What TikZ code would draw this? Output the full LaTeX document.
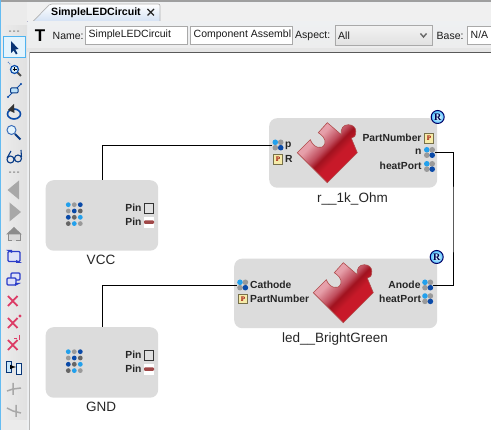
\documentclass[tikz,border=0pt]{standalone}
\usepackage{fontspec}
\setmainfont{Liberation Sans}
\newfontfamily\serifb{Liberation Serif}
\definecolor{boxgray}{HTML}{DCDCDC}
\definecolor{lblue}{HTML}{22A0EC}
\definecolor{dblue}{HTML}{0A4AA8}
\definecolor{dotg}{HTML}{9A9A9A}
\definecolor{dotd}{HTML}{666666}
\definecolor{uibg}{HTML}{EEF0F2}
\definecolor{uiline}{HTML}{A9A9A9}
\definecolor{tabblue}{HTML}{D4E2F4}
\definecolor{pyellow}{HTML}{F6EBA8}
\definecolor{polive}{HTML}{77704A}
\definecolor{pinred}{HTML}{A04848}
\definecolor{iconred}{HTML}{DC3C66}
\definecolor{iconblue}{HTML}{2A3CC8}
\definecolor{icongray}{HTML}{A8A8A8}
\pgfdeclarehorizontalshading{puzz}{100bp}{rgb(0bp)=(0.95,0.75,0.78); rgb(36bp)=(0.90,0.62,0.66); rgb(46bp)=(0.75,0.30,0.36); rgb(51bp)=(0.63,0.07,0.12); rgb(58bp)=(0.78,0.10,0.16); rgb(100bp)=(0.82,0.10,0.16)}
\tikzset{
  x=1pt,y=-1pt,
  block/.style={draw=none,fill=boxgray,rounded corners=8pt,inner sep=0pt},
  uitext/.style={inner sep=0pt,font=\fontsize{10.5}{12}\selectfont,text=black!90},
  field/.style={draw=uiline,fill=white,line width=.8pt,inner sep=0pt,anchor=north west},
  tlabel/.style={inner sep=0pt,font=\fontsize{13.5}{15}\selectfont,text=black!85},
  plabel/.style={inner sep=0pt,font=\bfseries\fontsize{10.3}{12}\selectfont,text=black!85},
  wire/.style={draw=black,line width=.9pt},
  porticon/.style={inner sep=0pt,minimum size=11pt,path picture={
    \fill[lblue] ([xshift=-2.7pt,yshift=2.7pt]path picture bounding box.center) circle (2.8pt);
    \fill[dotg] ([xshift=2.7pt,yshift=2.7pt]path picture bounding box.center) circle (2.8pt);
    \fill[dotg] ([xshift=-2.7pt,yshift=-2.7pt]path picture bounding box.center) circle (2.8pt);
    \fill[dblue] ([xshift=2.7pt,yshift=-2.7pt]path picture bounding box.center) circle (2.8pt);}},
  picon/.style={draw=polive,fill=pyellow,line width=.8pt,inner sep=0pt,minimum size=9.5pt,text=red!60!black,font=\serifb\bfseries\fontsize{7}{7}\selectfont},
  rbadge/.style={circle,draw=blue!40!black,line width=1pt,inner sep=0pt,minimum size=13pt,inner color=white,outer color=blue!35!cyan!70!white,text=blue!30!black,font=\serifb\bfseries\fontsize{10}{10}\selectfont},
  griddot/.style={radius=2.4pt},
  redx/.style={draw=iconred,line width=1.8pt},
}
\newcommand{\puzzleat}[2]{%
  \begin{scope}[shift={(#1,#2)}]
  \path[draw=red!55!black!70,line width=.6pt,shading=puzz,shading angle=-45]
    (-30,0) -- (-17,-13)
    .. controls (-14,-5) and (-5,-2) .. (-2.5,-9)
    .. controls (-1,-14) and (-6,-18) .. (-9,-20)
    -- (0,-30) -- (14,-18)
    .. controls (13,-24) and (16,-28) .. (21,-28)
    .. controls (25.5,-28) and (28.5,-25) .. (28.5,-21.5)
    .. controls (28.5,-17) and (27,-14.5) .. (24,-14.5)
    -- (30,0) -- (0,30) -- cycle;
  \end{scope}}
\newcommand{\griddots}[2]{%
  \begin{scope}[shift={(#1,#2)}]
  \foreach \px/\py/\pc in {0/0/lblue,6/0/dotg,12/0/dblue,0/6.3/dotg,6/6.3/dblue,12/6.3/dotd,0/12.6/dblue,6/12.6/dotd,12/12.6/lblue,0/18.9/dotd,6/18.9/lblue,12/18.9/dotg}
    \fill[\pc] (\px,\py) circle[griddot];
  \end{scope}}
\newcommand{\threedots}[1]{\fill[gray!70] (9,#1) rectangle +(2,1.5) (13,#1) rectangle +(2,1.5) (17,#1) rectangle +(2,1.5);}
\begin{document}
\begin{tikzpicture}
\useasboundingbox (0,0) rectangle (491,430);
% window chrome
\fill[uibg] (0,0) rectangle (491,430);
\fill[gray!75] (0,0) rectangle (491,2);
\fill[black!8] (1,2) rectangle (27,430);
\fill[lblue!70] (0,0) rectangle (1,430);
\fill[black!6] (27,3) rectangle (491,21);
\draw[blue!20!gray!50,line width=.8pt] (27,21) -- (491,21);
% tab
\path[draw=gray!60,line width=.7pt,top color=white,bottom color=tabblue] (33,21.5) -- (49,5) .. controls (50,4) .. (52,4) -- (156,4) .. controls (160,4) .. (160,8) -- (160,21.5) -- cycle;
\node[inner sep=0pt,anchor=west,font=\bfseries\fontsize{10.6}{12}\selectfont] (tabtext) at (51,12.5) {SimpleLEDCircuit};
\draw[line width=1.2pt,black!85] (147.5,9) -- (154,15.5) (154,9) -- (147.5,15.5);
% option row
\shade[top color=uibg,bottom color=black!7] (28,22) rectangle (491,48);
\fill[black!10] (27,48) rectangle (491,52);
\node[inner sep=0pt,font=\bfseries\fontsize{17}{17}\selectfont] (ticon) at (40,35.5) {T};
\node[uitext,anchor=west] (namelbl) at (52.5,36) {Name:};
\node[field,minimum width=102pt,minimum height=18pt] (namefield) at (85,26) {};
\node[uitext,anchor=west] (nametext) at (88.5,35) {SimpleLEDCircuit};
\node[field,minimum width=102pt,minimum height=18pt] (compfield) at (190,26) {};
\node[uitext,anchor=west] (comptext) at (193.5,35) {Component Assembl};
\node[uitext,anchor=west] (aspectlbl) at (295,36) {Aspect:};
\node[field,minimum width=97pt,minimum height=20pt,fill=none,top color=white!95!black,bottom color=black!12] (aspectbox) at (334.5,25.5) {};
\node[uitext,anchor=west] (aspecttext) at (338,36) {All};
\draw[line width=1.4pt,black!60] (420.5,33.5) -- (423.5,37) -- (426.5,33.5);
\node[uitext,anchor=west] (baselbl) at (436.5,36) {Base:};
\node[field,minimum width=30pt,minimum height=18pt] (basefield) at (467,26) {};
\node[uitext,anchor=west] (basetext) at (470.5,35) {N/A};
% canvas
\fill[white] (30,53) rectangle (491,430);
\draw[gray!70!black,line width=1.2pt] (29,52.5) -- (491,52.5);
\draw[gray!55,line width=1.2pt] (29.5,52) -- (29.5,430);
% left toolbar
\shade[left color=white!92!black,right color=black!12] (3,26) rectangle (27,420);
\threedots{30.5}
\threedots{171.5}
\draw[lblue!80,fill=lblue!12,line width=.9pt] (3.5,36.5) rectangle (25,57);
\fill[dblue!70!black] (11,41) -- (11,53) -- (13.6,50.5) -- (16,54.5) -- (17.5,53.5) -- (15.3,49.5) -- (18.5,49) -- cycle;
% zoom-to-box icon
\draw[dblue!70,line width=1pt,dash pattern=on 1pt off 1pt] (8,62) -- (11,65);
\draw[black!70,line width=1.8pt] (17.5,72.5) -- (21,76);
\draw[dblue,line width=1.2pt,fill=lblue!20] (14.5,69.5) circle (4pt);
\draw[black,line width=.7pt] (12.5,69.5) -- (16.5,69.5) (14.5,67.5) -- (14.5,71.5);
% connection icon
\draw[dblue,line width=.9pt] (8,97) -- (21,84);
\fill[dblue] (8,97) circle (1.2pt) (21,84) circle (1.2pt);
\draw[dblue!80!black,fill=lblue!30,line width=1pt,rounded corners=1pt] (10.5,88) rectangle (18,93);
% rotate icon
\draw[dblue,line width=1.6pt] (14,114) ellipse (6.5pt and 5pt);
\fill[black!80] (8,110) -- (14,104) -- (14.5,113) -- cycle;
% magnifier
\draw[dblue!80,line width=1pt,fill=lblue!12] (11.5,130) circle (4.5pt);
\draw[dblue!80!black,line width=2pt] (15,134) -- (20.5,139.5);
% glasses
\draw[dblue!80!black,line width=1.1pt] (10.5,159.5) circle (3.5pt) (18,158.5) circle (3.5pt) (14,158) -- (14.5,158) (7,158) -- (11,151) (21.5,157) -- (21,150);
% back/forward
\fill[icongray] (7.5,190) -- (19,180.5) -- (19,199.5) -- cycle;
\fill[icongray] (21,212) -- (9.5,202.5) -- (9.5,221.5) -- cycle;
% home
\draw[gray!90,line width=1pt,fill=black!15] (8,234) -- (8,241) -- (20,241) -- (20,234);
\fill[gray!90] (6,234.5) -- (14,227) -- (22,234.5) -- cycle;
\fill[white!70!gray] (12,235) rectangle (16,241);
% refresh icons
\draw[iconblue,line width=1.2pt,fill=iconblue!15,rounded corners=1pt] (8,251.5) rectangle (20,261.5);
\fill[iconblue] (6,250) -- (12,250) -- (12,253) -- cycle (22,263) -- (16,263) -- (16,260) -- cycle;
\draw[iconblue,line width=1.2pt,fill=iconblue!15,rounded corners=1pt] (11,273) rectangle (20,280);
\draw[iconblue,line width=1.2pt,fill=iconblue!15,rounded corners=1pt] (7,278) rectangle (16,285);
\fill[iconblue] (21,283) -- (15,283) -- (15,286) -- cycle;
% delete icons
\draw[redx] (8,296) -- (17.5,306) (17.5,296) -- (8,306);
\draw[redx] (8,318) -- (17.5,328) (17.5,318) -- (8,328);
\fill[iconred] (20,316) circle (1.6pt);
\draw[redx] (8,340) -- (17.5,350) (17.5,340) -- (8,350);
\draw[iconred,line width=.9pt] (14,338) -- (17,338) (19.5,335) -- (19.5,340);
% block link icon
\draw[dblue!70!black,fill=lblue!25,line width=.9pt] (6,361) rectangle (11,372);
\draw[dblue!70!black,fill=lblue!10,line width=.9pt] (16,363) rectangle (21,374);
\draw[black,line width=1pt,-latex] (10,367) -- (16,367);
% gray connector icons
\draw[icongray,line width=1.5pt] (7,391) -- (13,389) -- (21,388) (13,383) -- (13,395);
\draw[icongray,line width=1.5pt] (7,408) -- (13,411) -- (21,413) (16,405) -- (16,417);

% --- diagram blocks ---
\node[block,minimum width=168pt,minimum height=69.5pt,anchor=north west] (rblock) at (269,118) {};
\node[block,minimum width=203pt,minimum height=69.5pt,anchor=north west] (ledblock) at (234,258.5) {};
\node[block,minimum width=112.5pt,minimum height=70.5pt,anchor=north west] (vccblock) at (45.5,180) {};
\node[block,minimum width=112.5pt,minimum height=70.5pt,anchor=north west] (gndblock) at (45.5,327) {};
\puzzleat{327.3}{152.7}
\puzzleat{343.3}{292.7}
\griddots{68.3}{204.7}
\griddots{68.3}{351.7}
% r block content
\node[porticon] (rp) at (278,145) {};
\node[plabel,anchor=west] (rptext) at (285,145.5) {p};
\node[picon] (rRicon) at (278,159.5) {P};
\node[plabel,anchor=west] (rRtext) at (285,159) {R};
\node[plabel,anchor=east] (rpn) at (421.7,138) {PartNumber};
\node[picon] (rpnicon) at (429,138.5) {P};
\node[plabel,anchor=east] (rntext) at (421.7,152) {n};
\node[porticon] (rn) at (429.5,152.5) {};
\node[plabel,anchor=east] (rhp) at (421.7,166) {heatPort};
\node[porticon] (rheat) at (429.5,166.5) {};
\node[rbadge] (rbadgeA) at (437.7,117) {R};
\node[tlabel] (rname) at (352.5,199) {r\_\_1k\_Ohm};
% led block content
\node[porticon] (ledc) at (242.7,285) {};
\node[plabel,anchor=west] (ledctext) at (250,285) {Cathode};
\node[picon] (ledpicon) at (243,299) {P};
\node[plabel,anchor=west] (ledptext) at (250,299) {PartNumber};
\node[plabel,anchor=east] (ledatext) at (420.7,285) {Anode};
\node[porticon] (leda) at (427.7,285) {};
\node[plabel,anchor=east] (ledhtext) at (421.2,299) {heatPort};
\node[porticon] (ledh) at (427.7,298.7) {};
\node[rbadge] (rbadgeB) at (436.7,257) {R};
\node[tlabel] (ledname) at (335,339) {led\_\_BrightGreen};
% VCC / GND content
\node[plabel,anchor=east] (vp1) at (141.7,207.7) {Pin};
\node[draw=black!80,fill=black!12,line width=1.3pt,inner sep=0pt,minimum size=9.5pt] (vi1) at (149,208.5) {};
\node[plabel,anchor=east] (vp2) at (141.7,221.7) {Pin};
\node[fill=white,inner sep=0pt,minimum width=10pt,minimum height=11pt] (vi2) at (149,222.5) {};
\fill[pinred,rounded corners=1pt] (144,220.5) rectangle (154,224);
\node[tlabel] (vname) at (101,260) {VCC};
\node[plabel,anchor=east] (gp1) at (141.7,354.7) {Pin};
\node[draw=black!80,fill=black!12,line width=1.3pt,inner sep=0pt,minimum size=9.5pt] (gi1) at (149,355.5) {};
\node[plabel,anchor=east] (gp2) at (141.7,368.7) {Pin};
\node[fill=white,inner sep=0pt,minimum width=10pt,minimum height=11pt] (gi2) at (149,369.5) {};
\fill[pinred,rounded corners=1pt] (144,367.5) rectangle (154,371);
\node[tlabel] (gname) at (101,407) {GND};
% connectors
\coordinate (turnr) at (453,220);
\draw[wire] (vccblock.north) |- (rp.west);
\draw[wire] (rn.east) -| (turnr) |- (leda.east);
\draw[wire] (gndblock.north) |- (ledc.west);
\end{tikzpicture}
\end{document}
